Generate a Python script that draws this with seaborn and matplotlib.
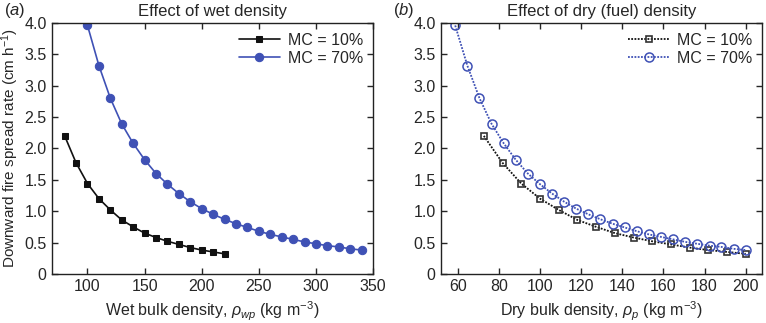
import matplotlib
matplotlib.use("Agg")
import matplotlib.pyplot as plt
import seaborn as sns

# wet bulk density (panel a)
wet_10 = [80, 90, 100, 110, 120, 130, 140, 150, 160, 170, 180, 190, 200, 210, 220]
wet_70 = [100, 110, 120, 130, 140, 150, 160, 170, 180, 190, 200, 210, 220, 230,
          240, 250, 260, 270, 280, 290, 300, 310, 320, 330, 340]

# dry bulk density (panel b)
dry_10 = [72.7, 81.8, 90.9, 100.0, 109.1, 118.2, 127.3, 136.4, 145.5, 154.5,
          163.6, 172.7, 181.8, 190.9, 200.0]
dry_70 = [58.8, 64.7, 70.6, 76.5, 82.4, 88.2, 94.1, 100.0, 105.9, 111.8, 117.6,
          123.5, 129.4, 135.3, 141.2, 147.1, 152.9, 158.8, 164.7, 170.6, 176.5,
          182.4, 188.2, 194.1, 200.0]

# spread rates
rate_10 = [2.2, 1.77, 1.44, 1.2, 1.02, 0.86, 0.75, 0.65, 0.58, 0.52, 0.47, 0.42,
           0.38, 0.35, 0.32]
rate_70 = [3.96, 3.32, 2.8, 2.39, 2.08, 1.82, 1.6, 1.43, 1.28, 1.15, 1.04, 0.95,
           0.87, 0.8, 0.74, 0.68, 0.63, 0.59, 0.55, 0.51, 0.48, 0.45, 0.43, 0.4, 0.38]

yticks = [0, 0.5, 1.0, 1.5, 2.0, 2.5, 3.0, 3.5, 4.0]
ytick_labels = ["0", "0.5", "1.0", "1.5", "2.0", "2.5", "3.0", "3.5", "4.0"]

sns.set_style("ticks")
plt.rcParams["font.family"] = ["Liberation Sans", "DejaVu Sans"]
plt.rcParams["mathtext.fontset"] = "custom"
plt.rcParams["mathtext.rm"] = "Liberation Sans"
plt.rcParams["mathtext.it"] = "Liberation Sans:italic"

black = "#111111"
blue = "#3f51b5"

fig = plt.figure(figsize=(7.66, 3.23), dpi=100)
ax1 = fig.add_axes([0.068, 0.152, 0.419, 0.777])
ax2 = fig.add_axes([0.576, 0.152, 0.419, 0.777])

# (a) wet density
sns.lineplot(x=wet_10, y=rate_10, ax=ax1, color=black, marker="s", markersize=5,
             markeredgecolor=black, lw=1.2, label="MC = 10%")
sns.lineplot(x=wet_70, y=rate_70, ax=ax1, color=blue, marker="o", markersize=6,
             markeredgecolor=blue, lw=1.2, label="MC = 70%")
ax1.set_xlim(69, 350)
ax1.set_xticks([100, 150, 200, 250, 300, 350])
ax1.set_xlabel(r"Wet bulk density, $\rho_{wp}$ (kg m$^{-3}$)", fontsize=11.5, labelpad=4)
ax1.set_ylabel(r"Downward fire spread rate (cm h$^{-1}$)", fontsize=11, labelpad=2)
ax1.set_title("Effect of wet density", fontsize=12, pad=5)
ax1.text(-0.15, 1.01, r"($a$)", transform=ax1.transAxes, fontsize=12, va="bottom")

# (b) dry density
sns.lineplot(x=dry_10, y=rate_10, ax=ax2, color=black, marker="s", markersize=5,
             markerfacecolor="none", markeredgecolor="#333333", mew=1.2,
             ls=(0, (1, 0.8)), lw=1.3, label="MC = 10%")
sns.lineplot(x=dry_70, y=rate_70, ax=ax2, color=blue, marker="o", markersize=6.5,
             markerfacecolor="none", markeredgecolor=blue, mew=1.1,
             ls=(0, (1, 0.8)), lw=1.3, label="MC = 70%")
ax2.set_xlim(52, 208)
ax2.set_xticks([60, 80, 100, 120, 140, 160, 180, 200])
ax2.set_xlabel(r"Dry bulk density, $\rho_{p}$ (kg m$^{-3}$)", fontsize=11.5, labelpad=4)
ax2.set_ylabel("")
ax2.set_title("Effect of dry (fuel) density", fontsize=12, pad=5)
ax2.text(-0.15, 1.01, r"($b$)", transform=ax2.transAxes, fontsize=12, va="bottom")

for ax in (ax1, ax2):
    ax.set_ylim(0, 4.0)
    ax.set_yticks(yticks)
    ax.set_yticklabels(ytick_labels)
    ax.tick_params(direction="in", top=True, right=True, labelsize=11.5,
                   length=4, width=1)
    ax.tick_params(axis="y", pad=4)
    ax.tick_params(axis="x", pad=4)
    for s in ax.spines.values():
        s.set_linewidth(1.0)
        s.set_color("#222222")
    leg = ax.legend(loc="upper right", frameon=False, fontsize=11.5,
                    handlelength=2.6, borderaxespad=0.2, labelspacing=0.2,
                    handletextpad=0.5)

fig.savefig("out.png", dpi=100)
